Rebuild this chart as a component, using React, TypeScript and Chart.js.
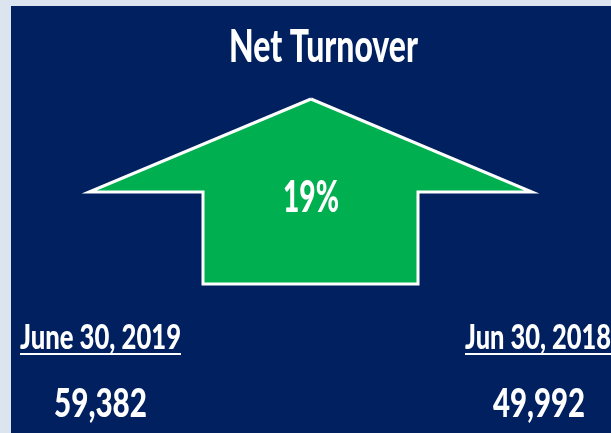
import React, { useEffect, useRef } from "react";
import { Chart, registerables } from "chart.js";

Chart.register(...registerables);

const title = "Net Turnover";
const periods = ["June 30, 2019", "Jun 30, 2018"];
const netTurnover = [59382, 49992];
const changePct = [19];
// arrow outline (panel units)
const arrowX = [311, 532, 418, 418, 203, 203, 89, 311];
const arrowY = [99, 192, 192, 284, 284, 192, 192, 99];

const W = 611;
const H = 433;
const FONT = 'Lato, "Liberation Sans", sans-serif';

function drawFitted(
  ctx: CanvasRenderingContext2D,
  text: string,
  left: number,
  baseline: number,
  cap: number,
  width: number
) {
  const size = cap / 0.72;
  ctx.save();
  ctx.font = `900 ${size}px ${FONT}`;
  ctx.textAlign = "left";
  ctx.textBaseline = "alphabetic";
  const m = ctx.measureText(text).width;
  ctx.translate(left, baseline);
  ctx.scale(width / m, 1);
  ctx.fillStyle = "#ffffff";
  ctx.fillText(text, 0, 0);
  ctx.restore();
}

const bgPlugin = {
  id: "bgPanel",
  beforeDraw(chart: any) {
    const ctx = chart.ctx as CanvasRenderingContext2D;
    ctx.save();
    ctx.fillStyle = "#dce5ef";
    ctx.fillRect(0, 0, W, H);
    ctx.fillStyle = "#00205f";
    ctx.fillRect(11, 6, W - 11, H - 6);
    ctx.restore();
  },
};

const textPlugin = {
  id: "texts",
  afterDraw(chart: any) {
    const ctx = chart.ctx as CanvasRenderingContext2D;
    drawFitted(ctx, title, 229, 62, 33, 189);
    drawFitted(ctx, `${changePct[0]}%`, 283, 212, 32, 56);
    const fmt = (v: number) => v.toLocaleString("en-US");
    // left period
    drawFitted(ctx, periods[0], 20, 349, 24, 161);
    drawFitted(ctx, fmt(netTurnover[0]), 54, 417, 29, 93);
    // right period
    drawFitted(ctx, periods[1], 465, 349, 24, 146);
    drawFitted(ctx, fmt(netTurnover[1]), 493, 417, 29, 92);
    ctx.save();
    ctx.fillStyle = "#ffffff";
    ctx.fillRect(20, 353, 161, 2);
    ctx.fillRect(465, 353, 146, 2);
    ctx.restore();
  },
};

export default function App() {
  const ref = useRef<HTMLCanvasElement>(null);
  useEffect(() => {
    document.body.style.margin = "0";
    const canvas = ref.current!;
    const chart = new Chart(canvas, {
      type: "line",
      data: {
        datasets: [
          {
            data: arrowX.map((x, i) => ({ x, y: arrowY[i] })),
            borderColor: "#ffffff",
            borderWidth: 3,
            backgroundColor: "#00b050",
            fill: "shape",
            pointRadius: 0,
            tension: 0,
            borderJoinStyle: "miter",
          } as any,
        ],
      },
      options: {
        responsive: false,
        animation: false,
        devicePixelRatio: 1,
        layout: { padding: 0 },
        plugins: {
          legend: { display: false },
          tooltip: { enabled: false },
          title: { display: false },
        },
        scales: {
          x: { type: "linear", min: 0, max: W, display: false },
          y: { type: "linear", min: 0, max: H, reverse: true, display: false },
        },
      },
      plugins: [bgPlugin, textPlugin],
    });
    return () => chart.destroy();
  }, []);
  return (
    <div style={{ width: W, height: H }}>
      <canvas ref={ref} width={W} height={H} style={{ display: "block" }} />
    </div>
  );
}
